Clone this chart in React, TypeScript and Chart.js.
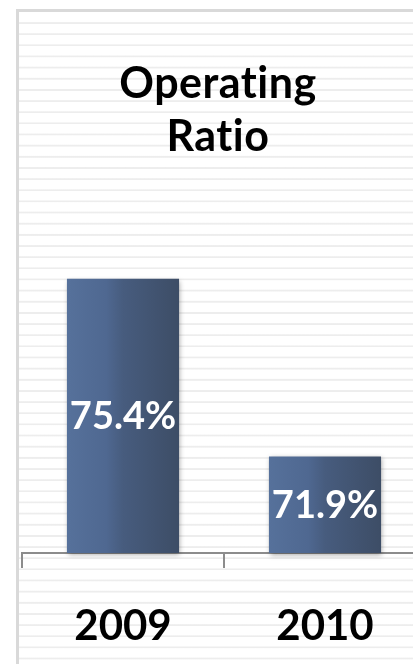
import React, { useEffect, useRef } from "react";
import { Chart, registerables } from "chart.js";

Chart.register(...registerables);

const categories: string[] = ["2009", "2010"];
const ratioValues: number[] = [75.4, 71.9];
const titleLines: string[] = ["Operating", "Ratio"];
const yMin = 70;
const yMax = 80;

const FONT = "Lato, 'Open Sans', sans-serif";

const barGradient = (context: any) => {
  const chart = context.chart;
  const xs = chart.scales && chart.scales.x;
  if (!chart.chartArea || !xs || context.dataIndex === undefined) return "#4a6088";
  const cx = xs.getPixelForValue(context.dataIndex);
  const half = (xs.width / categories.length) * 0.555 / 2;
  const g = chart.ctx.createLinearGradient(cx - half, 0, cx + half, 0);
  g.addColorStop(0, "#56719b");
  g.addColorStop(0.35, "#4f6891");
  g.addColorStop(0.5, "#475c7e");
  g.addColorStop(1, "#3d4d66");
  return g;
};

const shadowPlugin = {
  id: "barShadow",
  beforeDatasetsDraw(chart: any) {
    const ctx = chart.ctx;
    ctx.save();
    ctx.shadowColor = "rgba(0,0,0,0.35)";
    ctx.shadowBlur = 5;
    ctx.shadowOffsetX = 1;
    ctx.shadowOffsetY = 2;
  },
  afterDatasetsDraw(chart: any) {
    const ctx = chart.ctx;
    ctx.restore();
    const meta = chart.getDatasetMeta(0);
    ctx.save();
    ctx.fillStyle = "#ffffff";
    ctx.font = `bold 38px ${FONT}`;
    ctx.textAlign = "center";
    ctx.textBaseline = "middle";
    meta.data.forEach((bar: any, i: number) => {
      const v = ratioValues[i];
      ctx.fillText(v.toFixed(1) + "%", bar.x, (bar.y + bar.base) / 2 + 1);
    });
    ctx.restore();
  },
};

const titlePlugin = {
  id: "manualTitle",
  afterDraw(chart: any) {
    const ctx = chart.ctx;
    ctx.save();
    ctx.fillStyle = "#000000";
    ctx.font = `bold 43px ${FONT}`;
    (ctx as any).letterSpacing = "0.5px";
    (ctx as any).textRendering = "optimizeSpeed";
    ctx.textAlign = "center";
    ctx.textBaseline = "alphabetic";
    const cx = 199;
    titleLines.forEach((line, i) => {
      ctx.fillText(line, cx, 86 + i * 53);
    });
    ctx.restore();
  },
};

export default function App() {
  const canvasRef = useRef<HTMLCanvasElement | null>(null);

  useEffect(() => {
    document.body.style.margin = "0";
    document.body.style.overflow = "hidden";
    const canvas = canvasRef.current;
    if (!canvas) return;
    const chart = new Chart(canvas, {
      type: "bar",
      data: {
        labels: categories,
        datasets: [
          {
            data: ratioValues,
            base: yMin,
            backgroundColor: barGradient,
            borderWidth: 0,
            barPercentage: 0.555,
            categoryPercentage: 1,
            clip: false,
          } as any,
        ],
      },
      options: {
        animation: false,
        responsive: false,
        maintainAspectRatio: false,
        layout: { padding: { left: 3, right: 23, top: 33, bottom: 0 } },
        plugins: {
          legend: { display: false },
          title: { display: false },
          tooltip: { enabled: false },
        },
        scales: {
          y: {
            display: false,
            min: yMin,
            max: yMax,
          },
          x: {
            afterFit(scale: any) {
              scale.height = 111;
            },
            grid: {
              display: true,
              drawOnChartArea: false,
              drawTicks: true,
              tickLength: 15,
              color: "#8c8c8c",
              lineWidth: 2,
              offset: true,
            },
            border: { display: true, color: "#8c8c8c", width: 2 },
            ticks: {
              color: "#000000",
              font: { family: FONT, size: 42, weight: "bold" },
              padding: 33,
              maxRotation: 0,
              autoSkip: false,
            },
          },
        },
      },
      plugins: [shadowPlugin, titlePlugin],
    });
    return () => chart.destroy();
  }, []);

  return (
    <div
      style={{
        position: "absolute",
        left: 0,
        top: 0,
        width: 413,
        height: 664,
        overflow: "hidden",
        background: "#ffffff",
      }}
    >
      <div
        style={{
          position: "absolute",
          left: 16,
          top: 9,
          width: 460,
          height: 700,
          borderLeft: "3px solid #d9d9d9",
          borderTop: "3px solid #d9d9d9",
          backgroundColor: "#ffffff",
          backgroundImage:
            "repeating-linear-gradient(to bottom, #ffffff 0px, #ffffff 8.6px, #ededed 9.6px, #ededed 10.6px, #ffffff 11.15px)",
          backgroundPosition: "0px 1px",
        }}
      />
      <canvas
        ref={canvasRef}
        width={430}
        height={652}
        style={{ position: "absolute", left: 19, top: 12, width: 430, height: 652 }}
      />
    </div>
  );
}
